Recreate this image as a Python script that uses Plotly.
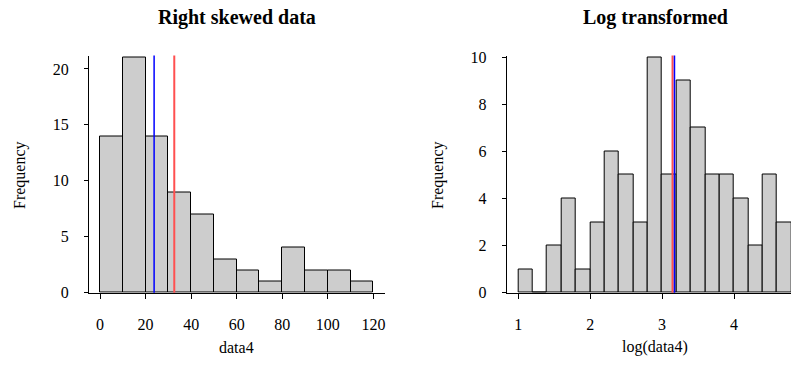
import plotly.graph_objects as go

W, H = 791, 375

# Raw data histogram: bin edges and counts
raw_edges = [0, 10, 20, 30, 40, 50, 60, 70, 80, 90, 100, 110, 120]
raw_counts = [14, 21, 14, 9, 7, 3, 2, 1, 4, 2, 2, 1]
raw_median = 23.75
raw_mean = 32.6

# Log-transformed histogram: bin edges and counts
log_edges = [1.0, 1.2, 1.4, 1.6, 1.8, 2.0, 2.2, 2.4, 2.6, 2.8, 3.0,
             3.2, 3.4, 3.6, 3.8, 4.0, 4.2, 4.4, 4.6, 4.8]
log_counts = [1, 0, 2, 4, 1, 3, 6, 5, 3, 10, 5, 9, 7, 5, 5, 4, 2, 5, 3]
log_mean = 3.145
log_median = 3.172

raw_ticks = [0, 20, 40, 60, 80, 100, 120]
raw_yticks = [0, 5, 10, 15, 20]
log_ticks = [1, 2, 3, 4]
log_yticks = [0, 2, 4, 6, 8, 10]

FONT = "Liberation Serif"
BAR_FILL = "#CDCDCD"
MEAN_COLOR = "#FF5050"
MEDIAN_COLOR = "#0000FF"


def px_x(p):
    return p / W


def px_y(p):
    return 1 - p / H


def hist_trace(edges, counts, xa, ya):
    mids = [(a + b) / 2 for a, b in zip(edges[:-1], edges[1:])]
    widths = [b - a for a, b in zip(edges[:-1], edges[1:])]
    return go.Bar(
        x=mids, y=counts, width=widths, xaxis=xa, yaxis=ya,
        marker=dict(color=BAR_FILL, line=dict(color="black", width=1)),
        cliponaxis=False, showlegend=False, hoverinfo="skip",
    )


fig = go.Figure()
fig.add_trace(hist_trace(raw_edges, raw_counts, "x", "y"))
fig.add_trace(hist_trace(log_edges, log_counts, "x2", "y2"))

axis_common = dict(
    showline=True, linecolor="black", linewidth=1,
    ticks="outside", tickcolor="black", tickwidth=1,
    showgrid=False, zeroline=False, automargin=False,
    tickfont=dict(family=FONT, size=16, color="black"),
    fixedrange=True,
)

y_dom = [px_y(292.7), px_y(55.5)]

fig.update_layout(
    width=W, height=H,
    margin=dict(l=0, r=0, t=0, b=0, autoexpand=False),
    paper_bgcolor="white", plot_bgcolor="white",
    bargap=0,
    xaxis=dict(domain=[px_x(89), px_x(385)], range=[-4.83, 125.1],
               tickvals=raw_ticks, ticklen=5, ticklabelstandoff=12,
               anchor="y", **axis_common),
    yaxis=dict(domain=y_dom, range=[0, 21.2], tickvals=raw_yticks,
               ticklen=4, ticklabelstandoff=12, anchor="x", **axis_common),
    xaxis2=dict(domain=[px_x(506.7), 1.0], range=[0.838, 4.793],
                tickvals=log_ticks, ticklen=5, ticklabelstandoff=12,
                anchor="y2", **axis_common),
    yaxis2=dict(domain=y_dom, range=[0, 10.075], tickvals=log_yticks,
                ticklen=4, ticklabelstandoff=12, anchor="x2", **axis_common),
)

# Median (blue) and mean (red) reference lines
for xref, yref, val, color, w in [
    ("x", "y domain", raw_median, MEDIAN_COLOR, 1.5),
    ("x", "y domain", raw_mean, MEAN_COLOR, 2),
    ("x2", "y2 domain", log_mean, MEAN_COLOR, 2),
    ("x2", "y2 domain", log_median, MEDIAN_COLOR, 1.5),
]:
    fig.add_shape(type="line", xref=xref, yref=yref, x0=val, x1=val,
                  y0=0, y1=1, line=dict(color=color, width=w))

# Titles and axis labels
texts = [
    ("Right skewed data", 237, 17, 20, "bold", 0),
    ("Log transformed", 655, 17, 20, "bold", 0),
    ("data4", 237, 347, 16, "normal", 0),
    ("log(data4)", 655, 347, 16, "normal", 0),
    ("Frequency", 20, 175, 16, "normal", -90),
    ("Frequency", 438, 175, 16, "normal", -90),
]
for txt, x, y, size, weight, ang in texts:
    fig.add_annotation(
        text=txt, x=px_x(x), y=px_y(y), xref="paper", yref="paper",
        xanchor="center", yanchor="middle", showarrow=False, textangle=ang,
        font=dict(family=FONT, size=size, color="black", weight=weight),
    )

fig.write_html("out.html")
